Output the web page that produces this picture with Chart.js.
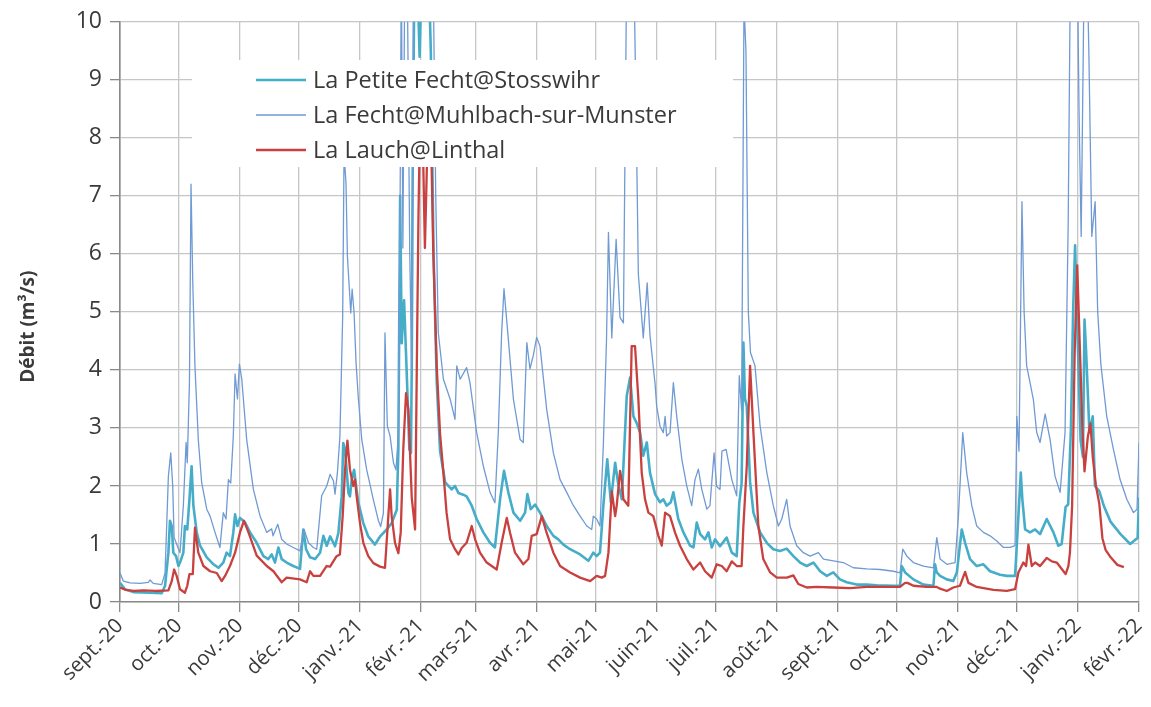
<!DOCTYPE html>
<html>
<head>
<meta charset="utf-8">
<script src="https://cdn.jsdelivr.net/npm/chart.js@4.4.1/dist/chart.umd.min.js"></script>
<style>
html,body{margin:0;padding:0;background:#fff;}
#wrap{width:1151px;height:707px;}
</style>
</head>
<body>
<div id="wrap"><canvas id="c" width="1151" height="707"></canvas></div>
<script>
// Month ticks: day index from 1 Sept 2020
const monthDays = [0,30,61,91,122,153,181,212,242,273,303,334,365,395,426,456,487,518];
const monthLabels = ['sept.-20','oct.-20','nov.-20','déc.-20','janv.-21','févr.-21','mars-21','avr.-21','mai-21','juin-21','juil.-21','août-21','sept.-21','oct.-21','nov.-21','déc.-21','janv.-22','févr.-22'];
const yTicks = [0,1,2,3,4,5,6,7,8,9,10];

const seriesNames = ['La Petite Fecht@Stosswihr','La Fecht@Muhlbach-sur-Munster','La Lauch@Linthal'];

// La Petite Fecht@Stosswihr
const petiteDays = [0,2.5,6.8,15.3,21.2,22.9,24.6,25.4,26.3,27.1,28.5,29.7,30.5,32.2,33,34.2,35.3,36.4,37.3,39,40.7,44.1,47.5,50,52.5,54.2,55.9,57.6,58.5,59.7,61,63.6,66.1,69.5,72.9,75.4,77.1,78.8,80.5,82.2,84.7,88.1,91.5,93.2,94.6,96.6,99.2,101.7,103.4,105.1,106.8,108.5,109.3,111,112.7,113.5,114.4,115.2,116.1,116.9,117.8,119,120,121.2,123.7,126.2,129.6,132.2,135.6,138.1,140.7,141.5,142.4,143.2,144.4,145.7,147.1,147.9,148.3,148.8,149.6,151,152.3,153.5,155,156.8,158,159.4,161,162.7,165.3,168.6,170.3,172,174.5,176.2,178.8,181.3,184.7,188.1,190.6,193.2,195.2,197.4,200,203.4,205.9,207.1,208.8,211,213.5,216.9,220.3,222.8,225.4,228.8,233.9,238.1,240.6,242.3,244,245.7,247.7,249.5,251.7,253.3,255.1,257.6,259.3,261,262.7,264.4,266,267.8,269.4,272,274.5,276.2,277.9,280,281.3,283.8,286.4,289.8,291.5,293.2,294.9,297.4,299.1,300.8,302.5,305,308.4,311,313.5,314.8,316,316.9,317.7,318.6,320.3,322,325.4,328.8,332.1,335.5,338.9,342.3,345.7,349.1,352.5,355.9,359.3,362.6,366,369.4,374.5,379.6,384.7,393.2,396.5,397.4,399.1,403.3,408.4,413.5,414.3,415.2,416.9,420.3,423.6,425.4,427.9,429.6,432.1,435.5,438.9,442.3,447.4,450.8,455,456.7,457.9,458.7,460.1,462.6,465.2,467.7,471.1,474.5,477,478.7,480.7,482,483.4,484.5,485.5,487,488.3,489.5,490.3,491.1,492.8,494.5,495.6,497.8,500.3,503.6,508.6,513.5,516,517.3,518];
const petiteVals = [0.33,0.22,0.17,0.16,0.15,0.28,0.85,1.4,1.31,0.85,0.79,0.62,0.68,0.85,1.31,1.25,1.77,2.34,1.66,1.2,0.97,0.77,0.65,0.59,0.68,0.85,0.79,1.2,1.51,1.31,1.45,1.37,1.2,1.02,0.79,0.74,0.82,0.68,0.94,0.74,0.68,0.62,0.57,1.25,0.91,0.77,0.74,0.85,1.14,0.97,1.13,1.02,0.96,1.19,1.82,2.74,2.63,2.28,1.88,1.82,2.11,2.28,2.0,1.71,1.36,1.13,0.99,1.13,1.25,1.36,1.59,2.63,7.0,4.46,5.2,4.0,2.63,2.57,4.0,7.5,10.6,11,9.4,11,10.2,11,9.5,6.0,3.8,2.6,2.06,1.94,2.0,1.88,1.85,1.82,1.66,1.43,1.2,1.02,0.94,1.77,2.26,1.89,1.54,1.4,1.54,1.86,1.6,1.68,1.54,1.31,1.14,1.08,0.99,0.91,0.82,0.71,0.85,0.79,0.85,1.66,2.46,1.72,2.4,2.03,1.77,3.55,3.87,3.2,3.08,2.92,2.52,2.75,2.23,1.86,1.72,1.77,1.66,1.72,1.89,1.43,1.2,0.97,0.94,1.37,1.17,1.08,1.2,0.94,1.08,0.96,1.11,0.85,0.79,1.71,2.05,4.47,3.5,3.38,2.07,1.54,1.2,1.02,0.91,0.88,0.92,0.79,0.68,0.62,0.68,0.53,0.45,0.51,0.39,0.34,0.3,0.3,0.29,0.28,0.28,0.62,0.51,0.39,0.3,0.28,0.65,0.51,0.45,0.39,0.36,0.51,1.25,1.02,0.74,0.62,0.65,0.53,0.47,0.45,0.45,1.48,2.23,1.77,1.25,1.2,1.25,1.17,1.43,1.2,0.97,1.0,1.64,1.68,2.99,5.0,6.15,4.33,2.79,2.5,4.87,4.33,2.92,3.2,2.0,1.91,1.64,1.38,1.17,1.0,1.07,1.1,1.8];

// La Fecht@Muhlbach-sur-Munster
const fechtDays = [0,1.7,5.1,10.2,14.4,15.3,16.9,21.2,22.9,24.6,25.8,26.8,27.5,29.2,30.5,32.2,33.6,34.2,35.3,36.1,37,38.1,39.8,41.5,44.1,45.8,48.3,50.8,52.5,53.9,55.1,56.3,57.6,58.5,59.7,60.7,61.9,64.4,67.8,71.2,74.6,77.1,77.8,80.2,82.2,84.7,88.1,91.5,93.6,95.8,98.3,100,102.5,105.1,106.8,108.5,109.3,110.5,111.8,113.2,113.9,114.9,115.6,116.6,117.3,118,119,120,121.2,122.9,125.4,128.8,131.3,132.5,133.9,134.7,135.9,137.3,139,140.3,141.5,142.4,143,143.8,144.9,146.1,147.3,148.3,149.3,151,153,155,157,159.3,160.5,161.8,164.4,167.8,170.3,171.2,172.9,176.2,177.9,181.3,184.7,188.1,190.6,192.3,194,195.2,197.4,200,203.4,205,206.8,208.4,210.1,211.8,213.5,216.9,220.3,223.7,227.1,230.5,233.9,237.3,239.8,240.6,242.3,244,245.7,247.3,248.3,250,252.2,254.2,255.9,257.6,259.3,261.2,262.7,263.5,265.2,266,268,269.4,272,272.8,274.5,276.2,277.1,277.9,279.6,281.3,283,285.6,288.1,290.6,292.3,294,295.7,298.3,299.9,302,303.3,305,306,308.1,311,313.5,314.8,316,317.2,318.2,319.4,320.5,322.8,325.4,328.8,332.1,334.7,336.4,338.9,340.6,344,347.4,350.8,355,357.6,362.6,367.7,372.8,379.6,386.4,393.2,396.5,397.9,400,403.3,408.4,413.5,415.2,416.9,420.3,424.5,426.2,428.4,430.4,433,435.5,438.9,442.3,445.7,449.1,452.5,455,455.9,457,458.5,459.6,460.9,462.6,464.3,466,467.7,470.3,472.8,475.3,477.9,480.4,482,482.9,484.5,486.5,487.5,488.6,490,491,492.5,494,495.7,497,498.6,501.6,505,508.4,511.8,515.2,517,518];
const fechtVals = [0.5,0.36,0.33,0.32,0.34,0.38,0.32,0.3,0.5,2.17,2.57,2.0,1.11,0.96,0.85,1.66,2.75,2.4,3.78,7.2,5.5,4.07,2.8,2.06,1.6,1.48,1.2,0.94,1.54,1.43,2.11,2.05,2.86,3.93,3.5,4.1,3.84,2.8,1.94,1.48,1.2,1.26,1.14,1.34,1.08,1.0,0.94,0.88,1.25,1.02,0.94,0.91,1.83,2.0,2.2,2.09,1.86,2.22,2.86,4.93,7.75,7.2,5.96,5.39,4.98,5.39,4.98,4.12,3.49,2.8,2.28,1.76,1.41,1.3,1.53,4.64,3.03,2.86,2.4,2.28,2.9,6.94,11,6.1,11.5,10.5,6,4.0,11,13,12.5,13,12.5,10.5,7.0,4.64,3.84,3.5,3.15,4.07,3.84,4.04,3.78,2.92,2.34,1.89,1.71,2.92,4.64,5.4,4.53,3.49,2.8,2.75,4.47,4.02,4.25,4.56,4.41,3.32,2.57,2.11,1.89,1.66,1.48,1.31,1.25,1.48,1.43,1.31,2.7,4.5,6.37,4.55,6.25,4.9,4.81,11,13,11,7.6,5.65,4.91,4.55,5.5,4.6,3.76,3.38,3.03,2.92,3.2,2.86,2.92,3.78,3.2,2.46,2.0,1.66,2.11,2.29,1.95,1.6,1.66,2.57,1.99,1.94,2.6,2.63,2.11,1.83,3.9,3.3,10.3,9.5,5.0,4.3,4.07,3.03,2.23,1.66,1.31,1.43,1.77,1.31,0.97,0.85,0.79,0.85,0.74,0.71,0.68,0.59,0.57,0.56,0.53,0.5,0.91,0.79,0.68,0.62,0.59,1.11,0.74,0.65,0.68,1.48,2.92,2.23,1.66,1.31,1.2,1.14,1.05,0.94,0.94,0.97,3.2,2.6,6.9,5.0,4.07,3.78,3.49,2.92,2.75,3.24,2.8,2.17,1.89,2.92,6.5,10,12,11.5,8.5,6.3,10.5,12,9.5,6.3,6.9,5.0,4.1,3.2,2.63,2.11,1.77,1.54,1.6,2.75];

// La Lauch@Linthal
const lauchDays = [0,3,7,12,18,24.6,26.3,27.5,28.8,30.5,33,34.2,35.3,37,38.1,39.8,42.4,45.8,49.2,51.7,53.4,55.9,58.5,61,63,65.3,69.5,74.6,78,82.2,84.7,91.5,94.9,96.6,98.3,101.7,105,106.8,110.1,111.8,113.2,114.4,115.6,116.9,118.6,119.5,120.3,122,123.7,126.2,128.8,132.2,134.7,136.4,137.3,138.1,139.8,141.5,142.7,144,145.4,146.6,148.3,150,150.8,151.7,152.5,153.5,155,156.5,157.8,159.2,161,162.7,164.4,166,167.8,170.3,172,173.7,176.2,178.8,180.5,183,186.4,191.5,194,196.6,198.3,200.8,205,207.6,209.3,211.8,214.4,216.9,220.3,223.7,228.8,233.9,239,242.3,244.9,246.6,248.3,250,251.7,252.5,254.2,255,255.9,258.4,260.1,261.8,263.5,265.2,266.9,268.6,271.1,273.7,275.4,277.1,279.6,282.2,284.7,288.1,291.5,294.9,297.4,300.8,303.3,305.9,308.4,311,313.5,316,316.9,318.6,320.3,322,324.5,327,330.5,333.9,339,342.3,344.8,349.1,354.2,362.6,371.1,379.6,386.4,396.5,399.1,400.3,403.3,410.1,415.2,416.9,420.3,423.6,427,429.6,431.3,435.5,444,450.8,455,456.7,459.2,460.6,461.8,463.5,465.2,467.7,471.1,473.7,476.2,479.6,480.7,482.1,482.9,484,485.3,486.6,488.3,489.2,490.3,492,493.3,494.5,496.1,497.8,499.4,501,503.6,507,510.3];
const lauchVals = [0.25,0.21,0.19,0.2,0.19,0.2,0.36,0.56,0.45,0.22,0.16,0.28,0.48,0.48,1.28,0.85,0.62,0.53,0.5,0.36,0.45,0.62,0.85,1.2,1.4,1.2,0.8,0.62,0.53,0.34,0.42,0.39,0.34,0.53,0.45,0.45,0.62,0.61,0.79,0.82,1.48,2.28,2.78,2.28,2.0,2.11,1.82,1.36,1.02,0.79,0.67,0.61,0.59,1.48,1.94,1.48,1.02,0.84,1.2,2.63,3.6,3.31,1.8,1.25,3.8,6.6,8.3,8.7,6.1,8.2,8.6,6.1,4.07,2.9,2.23,1.54,1.08,0.91,0.82,0.93,1.02,1.31,1.08,0.85,0.68,0.56,1.02,1.45,1.19,0.85,0.65,0.74,1.14,1.17,1.48,1.19,0.85,0.62,0.51,0.42,0.36,0.45,0.42,0.45,0.85,1.91,1.48,1.66,2.26,2.11,1.77,1.66,4.41,4.41,3.5,2.23,1.77,1.54,1.48,1.14,0.97,1.54,1.48,1.19,0.97,0.74,0.56,0.68,0.53,0.42,0.65,0.62,0.53,0.7,0.62,0.62,1.31,2.34,4.07,2.92,1.31,0.74,0.51,0.42,0.42,0.46,0.31,0.25,0.26,0.25,0.24,0.26,0.26,0.26,0.33,0.33,0.28,0.26,0.26,0.23,0.19,0.25,0.28,0.52,0.33,0.26,0.21,0.19,0.22,0.51,0.68,0.62,0.99,0.62,0.68,0.62,0.76,0.7,0.68,0.53,0.48,0.62,0.85,1.65,4.3,5.8,4.0,3.0,2.25,2.85,3.08,2.5,2.0,1.7,1.1,0.9,0.77,0.64,0.6];

const seriesColors = ['#46adc8','#6f9ad4','#c8413e'];
const seriesWidths = [2.6,1.3,2.3];

function pts(days, vals){ return days.map((d,i)=>({x:d, y:vals[i]})); }

const FONT = '"Open Sans", "Liberation Sans", sans-serif';
const TEXT = '#3a3a3a';

const legendBox = {
  id: 'legendBox',
  afterDatasetsDraw(chart){
    const ctx = chart.ctx;
    ctx.save();
    ctx.fillStyle = '#ffffff';
    ctx.fillRect(192, 60, 541, 107);
    const rows = [80, 115, 150];
    chart.data.datasets.forEach((ds, i) => {
      ctx.strokeStyle = ds.borderColor;
      ctx.lineWidth = ds.borderWidth;
      ctx.beginPath();
      ctx.moveTo(256, rows[i]);
      ctx.lineTo(306, rows[i]);
      ctx.stroke();
      ctx.fillStyle = TEXT;
      ctx.font = '23.5px ' + FONT;
      ctx.textBaseline = 'middle';
      ctx.textAlign = 'left';
      ctx.fillText(ds.label, 313, rows[i] + 1);
    });
    ctx.restore();
  }
};

const labelFor = {};
monthDays.forEach((d, i) => { labelFor[d] = monthLabels[i]; });

new Chart(document.getElementById('c'), {
  type: 'line',
  data: {
    datasets: [
      {label: seriesNames[0], data: pts(petiteDays, petiteVals), borderColor: seriesColors[0], borderWidth: seriesWidths[0], order: 3},
      {label: seriesNames[1], data: pts(fechtDays, fechtVals), borderColor: seriesColors[1], borderWidth: seriesWidths[1], order: 2},
      {label: seriesNames[2], data: pts(lauchDays, lauchVals), borderColor: seriesColors[2], borderWidth: seriesWidths[2], order: 1}
    ]
  },
  options: {
    responsive: false,
    animation: false,
    elements: { point: { radius: 0 }, line: { tension: 0, borderJoinStyle: 'round', fill: false } },
    layout: { padding: { top: 20, right: 12, left: 13, bottom: 0 } },
    plugins: { legend: { display: false }, tooltip: { enabled: false } },
    scales: {
      x: {
        type: 'linear',
        min: 0, max: 518,
        afterBuildTicks: (axis) => { axis.ticks = monthDays.map(v => ({ value: v })); },
        afterFit: (scale) => { scale.height = 105; scale.paddingRight = 0; scale.paddingLeft = 0; },
        ticks: {
          autoSkip: false, maxRotation: 45, minRotation: 45, padding: 2,
          color: TEXT, font: { family: FONT, size: 20.5 },
          callback: (v) => labelFor[v] !== undefined ? labelFor[v] : ''
        },
        grid: { color: '#c6c6c6', lineWidth: 1.3, tickLength: 10, tickColor: '#8a8a8a' },
        border: { color: '#8a8a8a', width: 1.6 }
      },
      y: {
        min: 0, max: 10,
        afterBuildTicks: (axis) => { axis.ticks = yTicks.map(v => ({ value: v })); },
        afterFit: (scale) => { scale.width = 107; },
        ticks: { color: TEXT, font: { family: FONT, size: 23 }, padding: 8 },
        grid: { color: '#c6c6c6', lineWidth: 1.3, tickLength: 10, tickColor: '#8a8a8a' },
        border: { color: '#8a8a8a', width: 1.6 },
        title: { display: true, text: 'Débit (m³/s)\u00a0\u00a0\u00a0\u00a0\u00a0\u00a0', color: TEXT, font: { family: FONT, size: 19, weight: 'bold' }, padding: { top: 4, bottom: 4 } }
      }
    }
  },
  plugins: [legendBox]
});
</script>
</body>
</html>
